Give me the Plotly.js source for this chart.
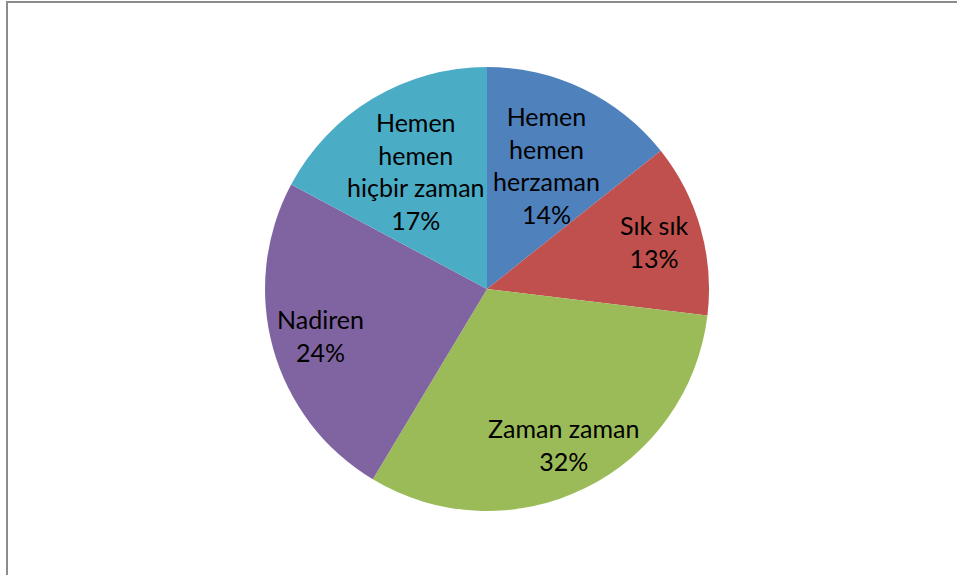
<!DOCTYPE html>
<html>
<head>
<meta charset="utf-8">
<script src="https://cdn.plot.ly/plotly-3.0.1.min.js"></script>
<style>
  html, body { margin: 0; padding: 0; background: #fff; }
  #frame { position: absolute; left: 6px; top: 1px; width: 960px; height: 580px;
           border-left: 2px solid #8c8c8c; border-top: 2px solid #8c8c8c; box-sizing: border-box; }
  #chart { position: absolute; left: 0; top: 0; width: 957px; height: 575px; }
</style>
</head>
<body>
<div id="frame"></div>
<div id="chart"></div>
<script>
const categories = ["Hemen hemen herzaman", "Sık sık", "Zaman zaman", "Nadiren", "Hemen hemen hiçbir zaman"];
const labelLines = [["Hemen", "hemen", "herzaman"], ["Sık sık"], ["Zaman zaman"], ["Nadiren"], ["Hemen", "hemen", "hiçbir zaman"]];
const values = [14.3, 12.6, 31.7, 24.2, 17.2];
const colors = ["#4F81BD", "#C0504D", "#9BBB59", "#8064A2", "#4BACC6"];

const W = 957, H = 575;
const dom = { x: [0.2769, 0.7409], y: [0.1113, 0.8835] };

const trace = {
  type: "pie",
  labels: categories,
  values: values,
  sort: false,
  direction: "clockwise",
  rotation: 0,
  marker: { colors: colors, line: { width: 0 } },
  textinfo: "none",
  hoverinfo: "label+percent",
  showlegend: false,
  domain: dom
};

// Data labels placed at each slice's mid-angle (computed from the values)
const total = values.reduce((a, b) => a + b, 0);
const cx = (dom.x[0] + dom.x[1]) / 2, cy = (dom.y[0] + dom.y[1]) / 2;
const Rpx = Math.min((dom.x[1] - dom.x[0]) * W, (dom.y[1] - dom.y[0]) * H) / 2;
let cum = 0;
const annotations = values.map((v, i) => {
  const mid = (cum + v / 2) / total * 2 * Math.PI;
  cum += v;
  const f = labelLines[i].length > 1 ? 0.62 : 0.78;
  const pct = Math.round(v / total * 100) + "%";
  return {
    xref: "paper", yref: "paper",
    x: cx + f * Rpx * Math.sin(mid) / W,
    y: cy + f * Rpx * Math.cos(mid) / H,
    xanchor: "center", yanchor: "middle",
    text: labelLines[i].concat([pct]).join("<br>"),
    showarrow: false,
    align: "center",
    font: { family: "Lato, Noto Sans, sans-serif", size: 25, color: "#000" }
  };
});

const layout = {
  width: W, height: H,
  margin: { l: 0, r: 0, t: 0, b: 0 },
  paper_bgcolor: "rgba(0,0,0,0)",
  plot_bgcolor: "rgba(0,0,0,0)",
  showlegend: false,
  annotations: annotations
};

Plotly.newPlot("chart", [trace], layout, { displayModeBar: false, staticPlot: true });
</script>
</body>
</html>
